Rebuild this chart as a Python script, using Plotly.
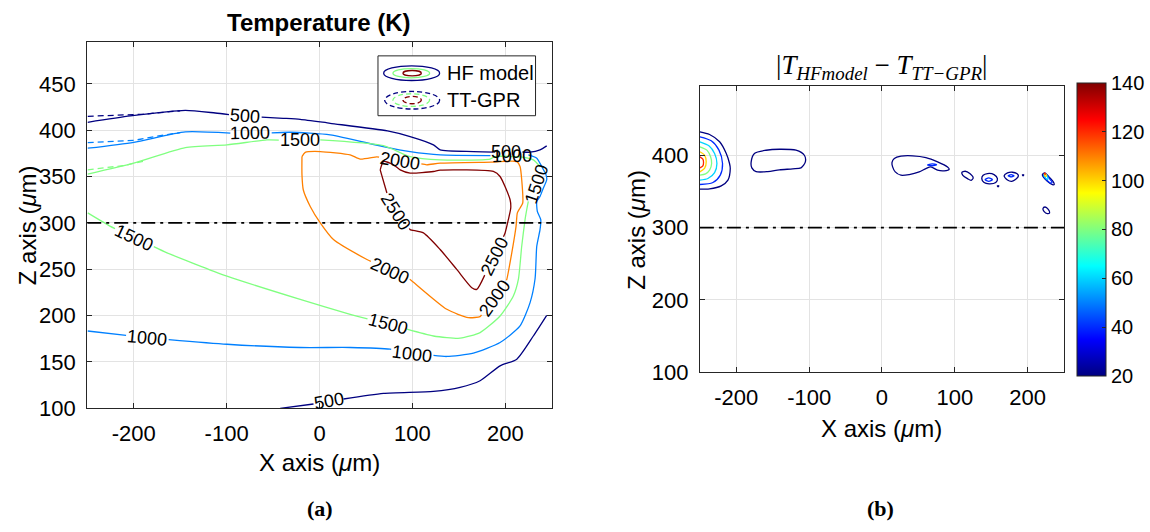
import math
import plotly.graph_objects as go
from plotly.colors import sample_colorscale

# ======================= DATA =======================
temp_levels = [500, 1000, 1500, 2000, 2500]
x_ticks = [-200, -100, 0, 100, 200]
z_ticks_a = [100, 150, 200, 250, 300, 350, 400, 450]
z_ticks_b = [100, 200, 300, 400]
cbar_ticks = [20, 40, 60, 80, 100, 120, 140]
x_range = [-250, 250]
z_range = [100, 495]
cut_z = 300

hf500_top_x = [-249.5, -203.5, -144.4, -112.2, -79.9, -39.0, -20.8, 11.5, 73.1, 97.5, 122.6, 129.8,
               165.6, 187.1, 200.8, 226.6, 237.3, 244.5]
hf500_top_z = [408.6, 415.4, 421.5, 418.6, 415.0, 412.9, 411.8, 407.5, 399.2, 393.1, 384.2, 378.8,
               377.0, 376.3, 377.0, 376.3, 378.8, 383.1]
hf500_top_lab = [4, 14]

hf500_bot_x = [-42.3, -6.5, 10.4, 25.8, 68.8, 122.6, 151.3, 172.8, 194.3, 212.3, 230.1, 244.5]
hf500_bot_z = [100.0, 104.6, 107.5, 110.0, 116.1, 118.3, 122.6, 129.7, 145.8, 153.0, 178.0, 200.3]
hf500_bot_lab = [2]

hf1000_x = [-249.5, -200.0, -144.4, -96.0, -74.5, -31.5, 11.5, 68.5, 97.5, 129.8, 183.5, 207.0,
            224.7, 233.8, 239.1, 243.8, 244.5, 240.9, 237.3, 233.8, 234.4, 238.1, 237.3, 233.8,
            232.0, 226.6, 215.8, 194.3, 165.6, 137.0, 99.7, 76.0, 33.0, -20.8, -99.6, -185.3, -249.5]
hf1000_z = [380.6, 387.0, 398.2, 396.8, 396.5, 397.8, 395.0, 382.4, 377.0, 373.4, 372.7, 372.5,
            373.4, 369.9, 360.9, 351.9, 346.6, 337.6, 328.6, 323.2, 312.5, 303.5, 292.8, 274.8,
            240.0, 214.0, 188.8, 171.0, 159.5, 155.9, 159.0, 163.8, 165.6, 165.6, 169.1, 176.0, 183.4]
hf1000_lab = [4, 11, 30, 35]

hf1500_x = [-249.5, -200.0, -144.4, -99.6, -56.6, -20.8, 0.8, 68.8, 97.5, 129.8, 183.5, 188.9,
            217.6, 230.1, 237.3, 233.9, 224.7, 223.0, 221.2, 217.6, 214.0, 208.6, 194.3, 172.8,
            151.3, 122.6, 94.0, 73.9, 33.0, -20.8, -99.6, -164.1, -199.2, -225.1, -249.5]
hf1500_z = [352.7, 364.5, 381.3, 384.2, 389.6, 389.0, 389.6, 383.4, 371.6, 368.0, 368.8, 371.6,
            371.0, 368.0, 360.9, 341.7, 323.2, 314.3, 303.5, 274.8, 239.0, 221.1, 199.6, 181.7,
            175.6, 178.0, 185.3, 190.6, 201.4, 217.5, 242.6, 267.7, 284.2, 296.3, 310.8]
hf1500_lab = [5, 15, 27, 32]

hf2000_x = [-18.9, -15.4, 0.8, 33.0, 43.8, 61.7, 86.8, 115.5, 129.8, 185.4, 212.3, 215.8, 217.6,
            218.7, 215.8, 212.9, 211.5, 206.9, 201.5, 188.9, 172.8, 160.2, 137.0, 97.5, 76.0, 51.0,
            15.0, 0.8, -10.0, -17.5, -18.9, -18.9]
hf2000_z = [371.6, 376.1, 377.0, 373.4, 368.8, 371.3, 367.0, 362.7, 364.5, 365.6, 366.2, 360.9,
            346.6, 321.5, 316.1, 310.8, 296.3, 267.7, 239.0, 218.6, 198.9, 197.8, 206.8, 239.0,
            248.5, 260.5, 282.0, 300.0, 317.8, 335.8, 351.9, 371.6]
hf2000_lab = [6, 19, 24]

hf2500_x = [65.3, 68.8, 79.6, 86.8, 97.5, 122.6, 129.8, 187.1, 194.3, 205.1, 205.8, 203.2, 199.7,
            189.0, 169.2, 163.9, 147.7, 129.8, 111.8, 97.5, 82.5, 72.5, 65.3]
hf2500_z = [357.3, 366.2, 362.7, 357.3, 353.8, 355.5, 357.0, 355.5, 350.1, 325.0, 316.1, 303.5,
            289.2, 263.8, 228.3, 230.1, 249.8, 271.3, 289.2, 292.8, 312.2, 332.3, 357.3]
hf2500_lab = [13, 20]

tt500_x = [-249.5, -230.0, -210.0, -190.0, -150.0]
tt500_z = [415.0, 415.8, 416.5, 417.3, 421.0]
tt1000_x = [-249.5, -225.0, -200.0, -175.0, -150.0]
tt1000_z = [386.7, 387.5, 389.0, 393.5, 397.5]
tt1500_x = [-249.5, -230.0, -210.0, -190.0]
tt1500_z = [357.3, 359.5, 362.0, 366.5]

err_contours = [
    (20, [-250, -236.7, -222.9, -213.8, -209.3, -208.3, -211.5, -220.7, -236.7, -250],
         [432.4, 428.7, 418.6, 402.4, 388.6, 381.7, 365.6, 357.7, 353.6, 353.1]),
    (40, [-250, -234.4, -223.8, -218.9, -222.0, -232.1, -250],
         [425.5, 420.0, 407.1, 388.6, 372.5, 362.3, 359.6]),
    (60, [-250, -237.6, -229.8, -226.6, -229.8, -239.0, -250],
         [418.6, 413.1, 402.4, 388.6, 376.1, 367.9, 365.6]),
    (80, [-250, -240.4, -235.3, -233.9, -236.7, -242.2, -250],
         [411.7, 407.1, 397.8, 388.6, 379.4, 374.3, 372.5]),
    (100, [-250, -243.6, -241.3, -243.6, -250],
          [404.8, 400.1, 390.9, 381.7, 377.1]),
    (120, [-250, -245.9, -245.0, -245.9, -250],
          [397.8, 394.6, 390.0, 385.4, 382.6]),
    (20, [-179.6, -175.1, -159.1, -140.8, -118.0, -106.6, -105.2, -111.2, -122.6, -140.8, -156.8,
          -172.8, -178.7, -179.6],
         [390.9, 402.4, 406.9, 408.3, 406.9, 400.0, 390.9, 382.5, 381.2, 379.8, 377.4, 377.4,
          382.5, 390.9]),
    (20, [13.7, 16.9, 26.0, 42.0, 60.3, 76.3, 90.0, 92.3, 85.4, 76.3, 67.1, 60.3, 51.1, 37.4, 26.0,
          18.2, 14.6, 13.7],
         [389.9, 395.4, 398.7, 399.2, 396.8, 390.9, 383.9, 380.6, 378.4, 379.3, 383.9, 381.6,
          377.0, 373.3, 372.4, 377.0, 383.9, 389.9]),
    (40, [62.6, 68.8, 75.0, 68.8, 62.6], [386.5, 388.0, 386.8, 385.5, 386.5]),
    (20, [109.6, 114.2, 120.6, 125.2, 122.4, 117.4, 111.0, 109.6],
         [376.0, 377.9, 374.7, 368.7, 365.4, 367.7, 372.3, 376.0]),
    (20, [137.0, 138.9, 144.8, 153.9, 158.5, 156.2, 147.1, 140.2, 137.0],
         [367.7, 372.3, 374.7, 373.3, 367.7, 362.2, 360.4, 362.2, 367.7]),
    (40, [141.6, 146.6, 151.6, 146.6, 141.6], [366.3, 368.6, 366.3, 364.0, 366.3]),
    (20, [158.4, 160.4, 159.4, 158.4], [357.8, 357.8, 356.2, 357.8]),
    (20, [167.7, 172.3, 179.1, 185.1, 187.3, 183.7, 178.2, 172.3, 167.7],
         [371.5, 375.6, 376.5, 374.7, 371.5, 366.8, 364.0, 365.8, 371.5]),
    (40, [173.2, 177.3, 181.3, 177.3, 173.2], [371.7, 373.3, 371.7, 370.0, 371.7]),
    (20, [192.8, 194.6, 193.7, 192.8], [373.0, 373.0, 371.6, 373.0]),
    (20, [220.2, 223.4, 229.3, 234.8, 236.6, 233.9, 227.0, 221.5, 220.2],
         [373.3, 375.6, 370.0, 364.0, 359.8, 359.4, 364.0, 370.0, 373.3]),
    (40, [221.5, 224.0, 229.0, 233.5, 232.0, 226.0, 221.5],
         [373.0, 374.5, 369.0, 362.5, 361.5, 366.0, 373.0]),
    (60, [222.5, 224.5, 228.0, 227.0, 223.0, 222.5], [373.0, 374.0, 368.5, 366.5, 370.5, 373.0]),
    (100, [222.8, 224.8, 225.8, 224.0, 222.8], [374.2, 374.2, 371.5, 371.0, 374.2]),
    (120, [222.9, 224.1, 224.1, 222.9], [375.0, 375.0, 373.6, 375.0]),
    (20, [221.0, 223.8, 228.3, 230.2, 227.0, 222.4, 221.0],
         [326.2, 328.5, 325.3, 320.6, 319.3, 322.5, 326.2]),
]

# ======================= STYLE / HELPERS =======================
W, H = 1150, 532
# the photographed page comes out ~2.2% shorter than the figure; pre-stretch vertical layout
SY = 1 / 0.978
JET = [[0.0, 'rgb(0,0,128)'], [0.125, 'rgb(0,0,255)'], [0.375, 'rgb(0,255,255)'],
       [0.625, 'rgb(255,255,0)'], [0.875, 'rgb(255,0,0)'], [1.0, 'rgb(128,0,0)']]
FONT = "Arial, Liberation Sans, Helvetica, sans-serif"
SERIF = "Times New Roman, Liberation Serif, DejaVu Serif, serif"
AX = '#262626'
LBL_FS = 18
TICK_FS = 22
LAB_FS = 24


def tcol(level):
    return sample_colorscale(JET, [(level - temp_levels[0]) / (temp_levels[-1] - temp_levels[0])])[0]


def ecol(level):
    return sample_colorscale(JET, [(level - cbar_ticks[0]) / (cbar_ticks[-1] - cbar_ticks[0])])[0]


def px(p):
    return p / W


def py(p, stretch=True):
    return 1 - (p * SY if stretch else p) / H


def gapped(xs, zs, labels, level):
    half = len(str(level)) * 0.556 * LBL_FS / 2 / 0.93 + 1.5
    ox, oz = [], []
    for i in range(len(xs)):
        if i in labels:
            for j, sgn in ((i - 1, 0), (i + 1, 1)):
                d = math.hypot(xs[j] - xs[i], zs[j] - zs[i])
                t = min(1.0, half / d)
                ex = xs[i] + (xs[j] - xs[i]) * t
                ez = zs[i] + (zs[j] - zs[i]) * t
                if sgn == 0:
                    ox += [ex, None]; oz += [ez, None]
                else:
                    ox.append(ex); oz.append(ez)
        else:
            ox.append(xs[i]); oz.append(zs[i])
    return ox, oz


def label_angle(xs, zs, i):
    a = math.degrees(math.atan2(zs[i + 1] - zs[i - 1], xs[i + 1] - xs[i - 1]))
    if a > 90:
        a -= 180
    if a <= -90:
        a += 180
    return -a


fig = go.Figure()

for lvl, xs, zs in [(500, tt500_x, tt500_z), (1000, tt1000_x, tt1000_z), (1500, tt1500_x, tt1500_z)]:
    fig.add_trace(go.Scatter(x=xs, y=zs, mode='lines', xaxis='x', yaxis='y', showlegend=False,
                             line=dict(color=tcol(lvl), width=1.3, dash='6px,4px'), hoverinfo='skip'))

hf_sets = [
    (500, hf500_top_x, hf500_top_z, hf500_top_lab),
    (500, hf500_bot_x, hf500_bot_z, hf500_bot_lab),
    (1000, hf1000_x, hf1000_z, hf1000_lab),
    (1500, hf1500_x, hf1500_z, hf1500_lab),
    (2000, hf2000_x, hf2000_z, hf2000_lab),
    (2500, hf2500_x, hf2500_z, hf2500_lab),
]
annotations = []
for lvl, xs, zs, labs in hf_sets:
    gx, gz = gapped(xs, zs, labs, lvl)
    fig.add_trace(go.Scatter(x=gx, y=gz, mode='lines', xaxis='x', yaxis='y', showlegend=False,
                             line=dict(color=tcol(lvl), width=1.3, shape='spline', smoothing=0.6),
                             hoverinfo='skip'))
    for i in labs:
        annotations.append(dict(x=xs[i], y=zs[i], xref='x', yref='y', text=str(lvl), showarrow=False,
                                textangle=label_angle(xs, zs, i),
                                font=dict(family=FONT, size=LBL_FS, color='black')))

for lvl, xs, zs in err_contours:
    fig.add_trace(go.Scatter(x=xs, y=zs, mode='lines', xaxis='x2', yaxis='y2', showlegend=False,
                             line=dict(color=ecol(lvl), width=1.3, shape='spline', smoothing=0.8),
                             hoverinfo='skip'))

fig.add_trace(go.Scatter(
    x=[0, 0], y=[200, 200], mode='markers', xaxis='x2', yaxis='y2', showlegend=False, hoverinfo='skip',
    marker=dict(size=1, opacity=0, color=[cbar_ticks[0], cbar_ticks[-1]], cmin=cbar_ticks[0],
                cmax=cbar_ticks[-1], colorscale=JET, showscale=True,
                colorbar=dict(x=px(1078.3), xanchor='left', xpad=0, ypad=0,
                              y=py(230), yanchor='middle', len=287 * SY, lenmode='pixels',
                              thickness=29, thicknessmode='pixels',
                              outlinecolor=AX, outlinewidth=1,
                              tickvals=cbar_ticks, ticktext=[str(v) for v in cbar_ticks],
                              ticks='inside', ticklen=4, tickcolor=AX,
                              tickfont=dict(family=FONT, size=20, color='black')))))

axis_common = dict(showline=True, linecolor=AX, linewidth=1, mirror='ticks', ticks='inside',
                   ticklen=5, tickcolor=AX, showgrid=True, gridcolor='#e3e3e3', gridwidth=1,
                   zeroline=False, tickfont=dict(family=FONT, size=TICK_FS, color='black'))

fig.update_layout(
    width=W, height=H, autosize=False, margin=dict(l=0, r=0, t=0, b=0),
    paper_bgcolor='white', plot_bgcolor='white', showlegend=False,
    xaxis=dict(domain=[px(87.3), px(552.3)], range=x_range, tickvals=x_ticks,
               ticktext=[str(v) for v in x_ticks], anchor='y', ticklabelstandoff=5, **axis_common),
    yaxis=dict(domain=[py(409.3), py(42.3)], range=z_range, tickvals=z_ticks_a,
               ticktext=[str(v) for v in z_ticks_a], anchor='x', ticklabelstandoff=6, **axis_common),
    xaxis2=dict(domain=[px(700.5), px(1065)], range=x_range, tickvals=x_ticks,
                ticktext=[str(v) for v in x_ticks], anchor='y2', ticklabelstandoff=5, **axis_common),
    yaxis2=dict(domain=[py(373.3), py(86.7)], range=z_range, tickvals=z_ticks_b,
                ticktext=[str(v) for v in z_ticks_b], anchor='x2', ticklabelstandoff=6, **axis_common),
)

shapes = [
    dict(type='line', xref='x', yref='y', x0=x_range[0], x1=x_range[1], y0=cut_z, y1=cut_z,
         line=dict(color='black', width=1.6, dash='14px,5px,3px,5px'), layer='above'),
    dict(type='line', xref='x2', yref='y2', x0=x_range[0], x1=x_range[1], y0=cut_z, y1=cut_z,
         line=dict(color='black', width=1.6, dash='14px,5px,3px,5px'), layer='above'),
    dict(type='rect', xref='paper', yref='paper', x0=px(378.3), x1=px(536), y0=py(116), y1=py(56),
         fillcolor='white', line=dict(color=AX, width=1), layer='above'),
]
leg_rings = [
    (384, 440, 66, 80.7, 500, 'solid'), (393.3, 430, 68.7, 78, 1500, 'solid'),
    (403.3, 421.7, 70.7, 76, 2500, 'solid'),
    (385, 440, 91.7, 109.3, 500, 'dash'), (393.3, 430, 94, 106.7, 1500, 'dash'),
    (403.3, 421.7, 96.7, 104, 2500, 'dash'),
]
for x0, x1, y0, y1, lvl, dash in leg_rings:
    shapes.append(dict(type='circle', xref='paper', yref='paper', x0=px(x0), x1=px(x1),
                       y0=py(y1), y1=py(y0), line=dict(color=tcol(lvl), width=1.3,
                       dash=('5px,3px' if dash == 'dash' else 'solid')), layer='above'))
fig.update_layout(shapes=shapes)

texts = [
    (445, 73.3, 'HF model', 'left', 0, dict(family=FONT, size=20, color='black'), True),
    (445, 100.5, 'TT-GPR', 'left', 0, dict(family=FONT, size=20, color='black'), True),
    (319.5, 23, '<b>Temperature (K)</b>', 'center', 0, dict(family=FONT, size=LAB_FS, color='black'), True),
    (882.5, 67, '|<i>T</i><sub><i>HFmodel</i></sub> \u2212 <i>T</i><sub><i>TT\u2212GPR</i></sub>|',
     'center', 0, dict(family=SERIF, size=27, color='black'), True),
    (319.8, 464, 'X axis (<i>\u03bc</i>m)', 'center', 0, dict(family=FONT, size=LAB_FS, color='black'), True),
    (882.7, 430, 'X axis (<i>\u03bc</i>m)', 'center', 0, dict(family=FONT, size=LAB_FS, color='black'), True),
    (27, 225.8, 'Z axis (<i>\u03bc</i>m)', 'center', -90, dict(family=FONT, size=LAB_FS, color='black'), True),
    (637, 230, 'Z axis (<i>\u03bc</i>m)', 'center', -90, dict(family=FONT, size=LAB_FS, color='black'), True),
    (320, 521, '<b>(a)</b>', 'center', 0, dict(family=SERIF, size=22, color='black'), False),
    (881, 521, '<b>(b)</b>', 'center', 0, dict(family=SERIF, size=22, color='black'), False),
]
for x, y, t, xa, ang, f, st in texts:
    annotations.append(dict(x=px(x), y=py(y, st), xref='paper', yref='paper', text=t, showarrow=False,
                            xanchor=xa, yanchor='middle', textangle=ang, font=f))
fig.update_layout(annotations=annotations)

fig.write_html("out.html")
